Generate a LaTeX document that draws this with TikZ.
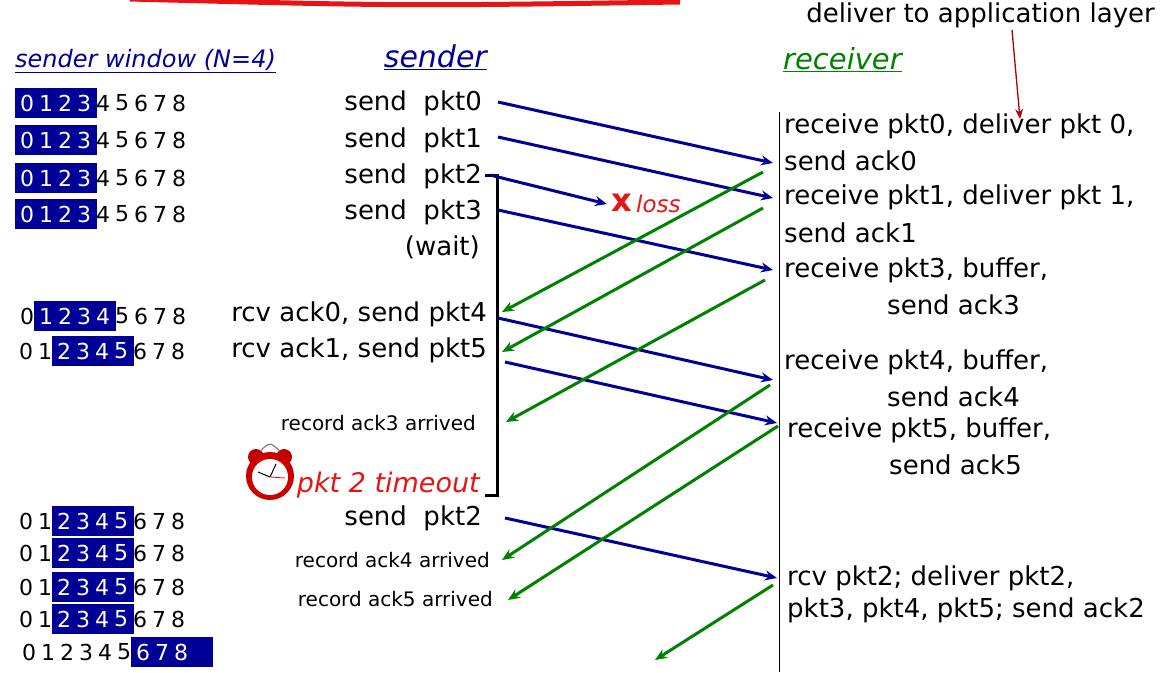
\documentclass[tikz,border=0pt]{standalone}
\usepackage{fontspec}
\setmainfont{DejaVu Sans}
\usetikzlibrary{arrows.meta}
\definecolor{navy}{RGB}{0,0,150}
\definecolor{dgreen}{RGB}{0,130,0}
\definecolor{hred}{RGB}{230,20,20}
\newcommand{\fs}[1]{\fontsize{#1}{#1}\selectfont}
\newcommand{\winrow}[5]{% y, x0, first, count, name
  \fill[navy] ({#2+19*#3-12},#1-15) rectangle ({#2+19*(#3+#4)-6},#1+15);
  \foreach \i in {0,...,8}{
    \pgfmathtruncatemacro{\inb}{(\i>=#3)&&(\i<#3+#4)}
    \ifnum\inb=1 \node[dig,text=white] (#5d\i) at ({#2+19*\i},#1) {\i};
    \else \node[dig] (#5d\i) at ({#2+19*\i},#1) {\i};\fi}}
\begin{document}
\begin{tikzpicture}[x=1pt,y=-1pt,
  dig/.style={inner sep=0pt,font=\fs{22}},
  lab/.style={inner sep=0pt,font=\fs{26}},
  sm/.style={inner sep=0pt,font=\fs{20}},
  pkt/.style={navy,line width=3pt,-{Stealth[length=12pt,width=10pt]}},
  ack/.style={dgreen,line width=3pt,-{Stealth[length=12pt,width=10pt]}}]
\useasboundingbox (0,0) rectangle (1166,672);
\draw[hred,line width=5pt] (130,-1) .. controls (400,6) .. (680,2);
% headers
\node[inner sep=0pt,anchor=west,text=navy,font=\fs{24}\itshape] (hw) at (15,61) {\underline{sender window (N=4)}};
\node[inner sep=0pt,anchor=east,text=navy,font=\fs{30}\itshape] (hs) at (487,57) {\underline{sender}};
\node[inner sep=0pt,anchor=west,text=dgreen,font=\fs{29}\itshape] (hr) at (783,60) {\underline{receiver}};
\node[inner sep=0pt,anchor=east,font=\fs{26}] (app) at (1155,15) {deliver to application layer};
\coordinate (appS) at (1012,30);
\coordinate (appE) at (1020,119);
\draw[red!70!black,line width=1.3pt,-{Stealth[length=10pt,width=8pt]}] (appS) -- (appE);
% windows
\winrow{103}{27}{0}{4}{a}
\winrow{140}{27}{0}{4}{b}
\winrow{178}{27}{0}{4}{c}
\winrow{214}{27}{0}{4}{d}
\winrow{316}{27}{1}{4}{e}
\winrow{351}{26}{2}{4}{f}
\winrow{521}{26}{2}{4}{g}
\winrow{553}{26}{2}{4}{h}
\winrow{587}{26}{2}{4}{i}
\winrow{619}{26}{2}{4}{j}
\winrow{652}{29}{6}{4}{k}
% sender labels
\node[lab,anchor=east] (s0) at (482,103) {send\ \ pkt0};
\node[lab,anchor=east] (s1) at (482,140) {send\ \ pkt1};
\node[lab,anchor=east] (s2) at (482,176) {send\ \ pkt2};
\node[lab,anchor=east] (s3) at (482,212) {send\ \ pkt3};
\node[lab,anchor=east] (wt) at (480,247) {(wait)};
\node[lab,anchor=east] (s4) at (487,314) {rcv ack0, send pkt4};
\node[lab,anchor=east] (s5) at (487,350) {rcv ack1, send pkt5};
\node[sm,anchor=east] (r3) at (476,423) {record ack3 arrived};
\node[inner sep=0pt,anchor=east,text=hred,font=\fs{27}\itshape] (to) at (480,485) {pkt 2 timeout};
\node[lab,anchor=east] (s2b) at (482,518) {send\ \ pkt2};
\node[sm,anchor=east] (r4) at (490,560) {record ack4 arrived};
\node[sm,anchor=east] (r5) at (493,599) {record ack5 arrived};
% clock
\begin{scope}[shift={(270,476)}]
\fill[red!75!black] (-14,-19) circle (8); \fill[red!75!black] (14,-19) circle (8);
\draw[gray,line width=1.2pt] (-10,-25) .. controls (0,-34) .. (10,-25);
\fill[red!80!black] (0,0) circle (24);
\fill[white] (0,1) circle (18);
\draw[black,line width=1pt] (0,1) -- (-12,-4);
\draw[black,line width=1pt] (0,1) -- (6,-12);
\draw[red,line width=0.8pt] (0,1) -- (15,2);
\end{scope}
% bracket
\coordinate (bt) at (485,175);
\coordinate (bb) at (485,495);
\draw[line width=3pt] (bt) -- ++(12,0) -- ++(0,320) -- (bb);
% receiver line
\coordinate (rt) at (779,112);
\coordinate (rb) at (779,672);
\draw[line width=1pt] (rt) -- (rb);
% receiver labels
\node[lab,anchor=west] (q0) at (784,126) {receive pkt0, deliver pkt 0,};
\node[lab,anchor=west] (q0a) at (784,161) {send ack0};
\node[lab,anchor=west] (q1) at (784,197) {receive pkt1, deliver pkt 1,};
\node[lab,anchor=west] (q1a) at (784,233) {send ack1};
\node[lab,anchor=west] (q3) at (784,270) {receive pkt3, buffer,};
\node[lab,anchor=west] (q3a) at (887,305) {send ack3};
\node[lab,anchor=west] (q4) at (784,362) {receive pkt4, buffer,};
\node[lab,anchor=west] (q4a) at (887,397) {send ack4};
\node[lab,anchor=west] (q5) at (787,430) {receive pkt5, buffer,};
\node[lab,anchor=west] (q5a) at (889,465) {send ack5};
\node[lab,anchor=west] (q2) at (787,578) {rcv pkt2; deliver pkt2,};
\node[lab,anchor=west] (q2a) at (787,610) {pkt3, pkt4, pkt5; send ack2};
% loss
\node[inner sep=0pt,text=hred,font=\fs{32}\bfseries] (x) at (622,203) {x};
\node[inner sep=0pt,anchor=west,text=hred,font=\fs{23}\itshape] (loss) at (636,204) {loss};
% arrow endpoints
\foreach \n/\x/\y in {p0s/498/102,p0e/773/163,p1s/498/137,p1e/773/198,p2s/490/175,p2e/607/204,
  p3s/498/210,p3e/773/270,p4s/498/318,p4e/773/380,p5s/505/362,p5e/777/423,p6s/505/518,p6e/777/578,
  a0s/763/172,a0e/502/312,a1s/763/208,a1e/502/352,a3s/765/280,a3e/506/422,a4s/770/385,a4e/502/560,
  a5s/778/426,a5e/508/600,a2s/773/585,a2e/655/660}{\coordinate (\n) at (\x,\y);}
\foreach \a in {p0,p1,p2,p3,p4,p5,p6}{\draw[pkt] (\a s) -- (\a e);}
\foreach \a in {a0,a1,a3,a4,a5,a2}{\draw[ack] (\a s) -- (\a e);}
\end{tikzpicture}
\end{document}
